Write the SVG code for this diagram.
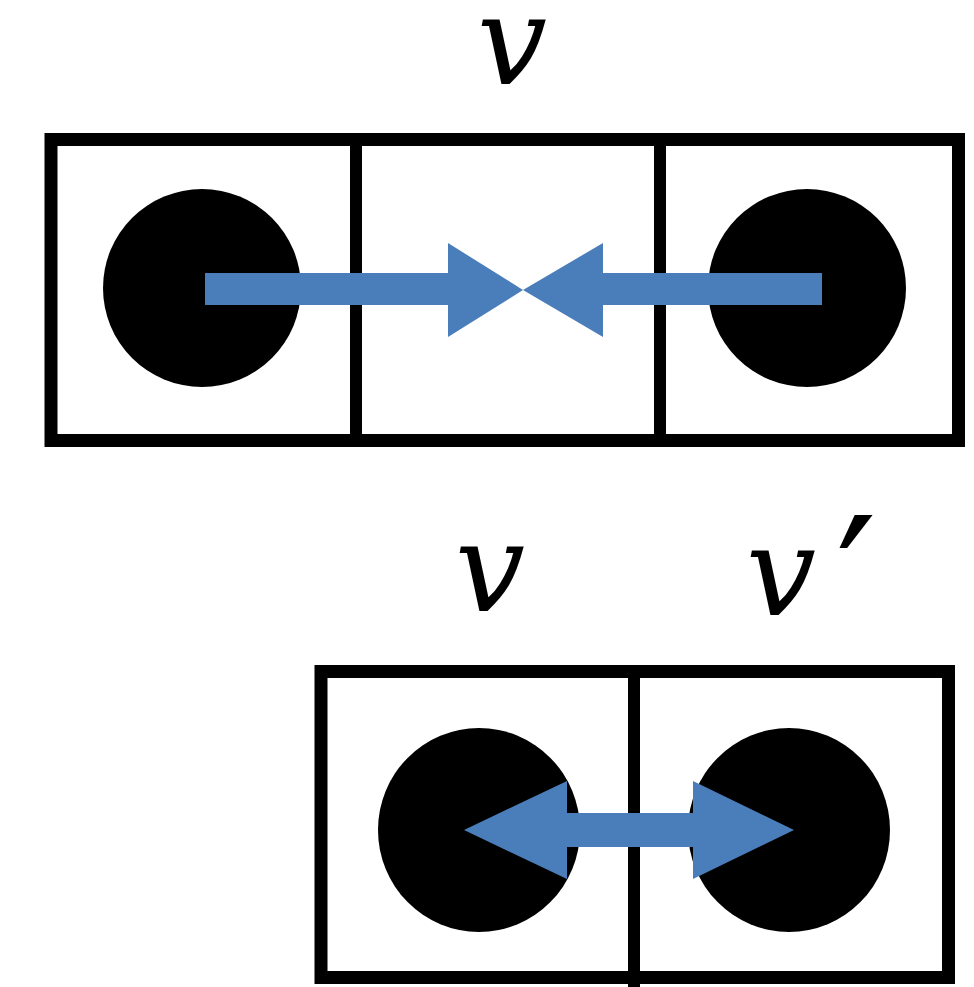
<svg xmlns="http://www.w3.org/2000/svg" width="974" height="987" viewBox="0 0 974 987">
<style>
.box{fill:#fff;stroke:#000;stroke-width:13}
.div{stroke:#000;stroke-width:12}
.dot{fill:#000}
.arr{fill:#4A7EBB}
.lbl{font-family:"DejaVu Serif",serif;font-style:italic;font-size:124px;fill:#000}
.prm{font-family:"DejaVu Sans",sans-serif;font-style:normal;font-size:180px}
</style>
<rect width="974" height="987" fill="#fff"/>
<g id="top-row">
<rect class="box" x="51" y="139.5" width="907.5" height="301"/>
<line class="div" x1="356" y1="139" x2="356" y2="441"/>
<line class="div" x1="660" y1="139" x2="660" y2="441"/>
<ellipse id="top-left-dot" class="dot" cx="202" cy="288" rx="99" ry="99"/>
<ellipse id="top-right-dot" class="dot" cx="807" cy="288" rx="99" ry="99"/>
</g>
<g id="bottom-row">
<rect class="box" x="321" y="671.5" width="627.5" height="306"/>
<line class="div" x1="634" y1="671" x2="634" y2="987"/>
<ellipse id="bottom-left-dot" class="dot" cx="479" cy="830" rx="101" ry="102"/>
<ellipse id="bottom-right-dot" class="dot" cx="789" cy="830" rx="101" ry="102"/>
</g>
<g id="connectors">
<polygon class="arr" points="205,273 448,273 448,243 523,290 448,337 448,305 205,305"/>
<polygon class="arr" points="822,273 603,273 603,243 523,290 603,337 603,305 822,305"/>
<polygon class="arr" points="464,830 567,781 567,813 693,813 693,781 794,830 693,879 693,847 567,847 567,879"/>
</g>
<g id="labels">
<text class="lbl" x="512" y="84" text-anchor="middle">v</text>
<text class="lbl" x="490" y="611" text-anchor="middle">v</text>
<text class="lbl" x="746" y="615">v<tspan class="prm" dx="20" dy="32">′</tspan></text>
</g>
</svg>
